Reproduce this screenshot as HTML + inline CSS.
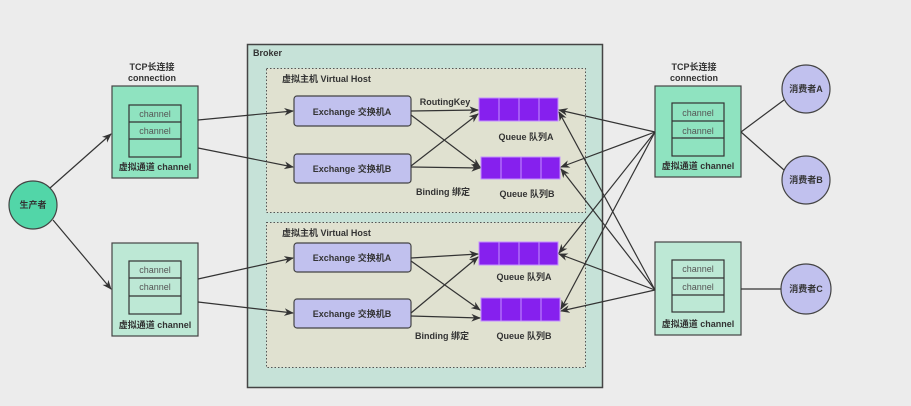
<!DOCTYPE html>
<html><head><meta charset="utf-8"><style>
html,body{margin:0;padding:0;background:#ececec;}
svg{display:block;font-family:"Liberation Sans","Noto Sans CJK SC",sans-serif;}
.b{font-weight:bold;fill:#333;font-size:9px;}
.c{fill:#555;font-size:9px;}
</style></head><body>
<svg width="911" height="406" viewBox="0 0 911 406">
<defs><marker id="a" viewBox="0 0 10 10" refX="9" refY="5" markerWidth="8" markerHeight="8" orient="auto"><path d="M0,1 L10,5 L0,9 L3,5 z" fill="#333"/></marker></defs>
<rect width="911" height="406" fill="#ececec"/>
<rect x="247.5" y="44.5" width="355" height="343" fill="#c6e2d8" stroke="#444" stroke-width="1.5"/>
<text x="253" y="56" class="b">Broker</text>
<rect x="266.5" y="68.5" width="319" height="144" fill="#e0e1d0" stroke="#555" stroke-dasharray="1.5,2"/>
<rect x="266.5" y="222.5" width="319" height="145" fill="#e0e1d0" stroke="#555" stroke-dasharray="1.5,2"/>
<text x="282" y="82" class="b">虚拟主机 Virtual Host</text>
<text x="282" y="236" class="b">虚拟主机 Virtual Host</text>
<g fill="#c1c1ee" stroke="#444" stroke-width="1.2">
<rect x="294" y="96" width="117" height="30" rx="3"/>
<rect x="294" y="154" width="117" height="29" rx="3"/>
<rect x="294" y="243" width="117" height="29" rx="3"/>
<rect x="294" y="299" width="117" height="29" rx="3"/>
</g>
<g class="b" text-anchor="middle">
<text x="352" y="115">Exchange 交换机A</text>
<text x="352" y="172">Exchange 交换机B</text>
<text x="352" y="261">Exchange 交换机A</text>
<text x="352" y="317">Exchange 交换机B</text>
</g>
<g fill="#8620ee" stroke="#c490ff" stroke-width="1">
<rect x="479" y="98" width="79" height="23"/><line x1="499" y1="98" x2="499" y2="121"/><line x1="519" y1="98" x2="519" y2="121"/><line x1="539" y1="98" x2="539" y2="121"/>
<rect x="481" y="157" width="79" height="22"/><line x1="501" y1="157" x2="501" y2="179"/><line x1="521" y1="157" x2="521" y2="179"/><line x1="541" y1="157" x2="541" y2="179"/>
<rect x="479" y="242" width="79" height="23"/><line x1="499" y1="242" x2="499" y2="265"/><line x1="519" y1="242" x2="519" y2="265"/><line x1="539" y1="242" x2="539" y2="265"/>
<rect x="481" y="298" width="79" height="23"/><line x1="501" y1="298" x2="501" y2="321"/><line x1="521" y1="298" x2="521" y2="321"/><line x1="541" y1="298" x2="541" y2="321"/>
</g>
<g class="b" text-anchor="middle">
<text x="526" y="140">Queue 队列A</text>
<text x="527" y="197">Queue 队列B</text>
<text x="524" y="280">Queue 队列A</text>
<text x="524" y="339">Queue 队列B</text>
<text x="445" y="105">RoutingKey</text>
<text x="443" y="195">Binding 绑定</text>
<text x="442" y="339">Binding 绑定</text>
</g>
<rect x="112" y="86" width="86" height="92" fill="#8fe3c0" stroke="#444" stroke-width="1.2"/>
<rect x="112" y="243" width="86" height="93" fill="#bde8d5" stroke="#444" stroke-width="1.2"/>
<rect x="655" y="86" width="86" height="91" fill="#8fe3c0" stroke="#444" stroke-width="1.2"/>
<rect x="655" y="242" width="86" height="93" fill="#bde8d5" stroke="#444" stroke-width="1.2"/>
<g fill="none" stroke="#333" stroke-width="1.2">
<rect x="129" y="105" width="52" height="52"/><line x1="129" y1="122" x2="181" y2="122"/><line x1="129" y1="139" x2="181" y2="139"/>
<rect x="129" y="261" width="52" height="53"/><line x1="129" y1="278" x2="181" y2="278"/><line x1="129" y1="296" x2="181" y2="296"/>
<rect x="672" y="103" width="52" height="53"/><line x1="672" y1="121" x2="724" y2="121"/><line x1="672" y1="138" x2="724" y2="138"/>
<rect x="672" y="260" width="52" height="52"/><line x1="672" y1="278" x2="724" y2="278"/><line x1="672" y1="295" x2="724" y2="295"/>
</g>
<g class="c" text-anchor="middle">
<text x="155" y="117">channel</text><text x="155" y="134">channel</text>
<text x="155" y="273">channel</text><text x="155" y="290">channel</text>
<text x="698" y="116">channel</text><text x="698" y="134">channel</text>
<text x="698" y="272">channel</text><text x="698" y="290">channel</text>
</g>
<g class="b" text-anchor="middle">
<text x="155" y="170">虚拟通道 channel</text>
<text x="155" y="328">虚拟通道 channel</text>
<text x="698" y="169">虚拟通道 channel</text>
<text x="698" y="327">虚拟通道 channel</text>
<text x="152" y="70">TCP长连接</text><text x="152" y="81">connection</text>
<text x="694" y="70">TCP长连接</text><text x="694" y="81">connection</text>
</g>
<circle cx="33" cy="205" r="24" fill="#52d6a8" stroke="#444" stroke-width="1.2"/>
<text x="33" y="208" class="b" text-anchor="middle">生产者</text>
<g fill="#c1c1ee" stroke="#444" stroke-width="1.2">
<circle cx="806" cy="89" r="24"/><circle cx="806" cy="180" r="24"/><circle cx="806" cy="289" r="25"/>
</g>
<g class="b" text-anchor="middle">
<text x="806" y="92">消费者A</text><text x="806" y="183">消费者B</text><text x="806" y="292">消费者C</text>
</g>
<g stroke="#333" stroke-width="1.2" fill="none" marker-end="url(#a)">
<line x1="50" y1="188" x2="111" y2="134"/>
<line x1="53" y1="220" x2="111" y2="289"/>
<line x1="198" y1="120" x2="293" y2="111"/>
<line x1="198" y1="148" x2="293" y2="167"/>
<line x1="198" y1="279" x2="293" y2="258"/>
<line x1="198" y1="302" x2="293" y2="313"/>
<line x1="411" y1="111" x2="478" y2="110"/>
<line x1="411" y1="115" x2="480" y2="167"/>
<line x1="411" y1="166" x2="478" y2="114"/>
<line x1="411" y1="167" x2="480" y2="168"/>
<line x1="411" y1="258" x2="478" y2="254"/>
<line x1="411" y1="261" x2="480" y2="310"/>
<line x1="411" y1="313" x2="478" y2="257"/>
<line x1="411" y1="316" x2="480" y2="318"/>
<line x1="655" y1="132" x2="559" y2="110"/>
<line x1="655" y1="132" x2="561" y2="167"/>
<line x1="655" y1="132" x2="559" y2="253"/>
<line x1="655" y1="132" x2="561" y2="309"/>
<line x1="655" y1="290" x2="559" y2="112"/>
<line x1="655" y1="290" x2="561" y2="169"/>
<line x1="655" y1="290" x2="559" y2="254"/>
<line x1="655" y1="290" x2="561" y2="311"/>
</g>
<g stroke="#333" stroke-width="1.2">
<line x1="741" y1="132" x2="784" y2="100"/>
<line x1="741" y1="132" x2="784" y2="170"/>
<line x1="741" y1="289" x2="781" y2="289"/>
</g>
</svg>
</body></html>
